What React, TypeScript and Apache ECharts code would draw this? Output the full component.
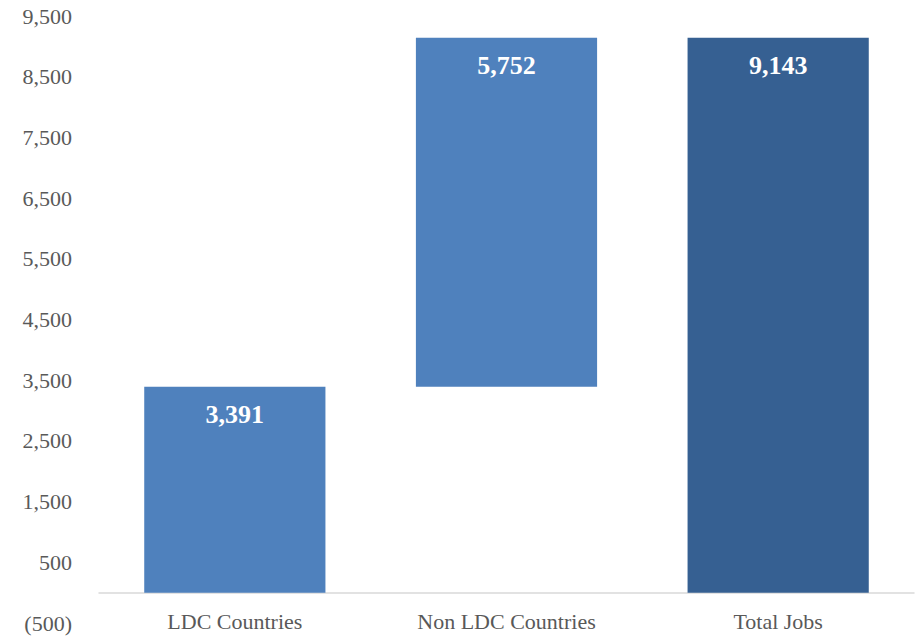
import React, { useEffect, useRef } from "react";
import * as echarts from "echarts";

const categories = ["LDC Countries", "Non LDC Countries", "Total Jobs"];
const baseValues = [0, 3391, 0];
const barValues = [3391, 5752, 9143];
const barColors = ["#4F81BD", "#4F81BD", "#366092"];
const yMin = -500;
const yMax = 9500;
const yInterval = 1000;

const fmt = (v: number) => {
  const s = Math.abs(v).toLocaleString("en-US");
  return v < 0 ? `(${s})` : s;
};

export default function App() {
  const ref = useRef<HTMLDivElement>(null);
  useEffect(() => {
    if (!ref.current) return;
    const chart = echarts.init(ref.current, null, { renderer: "svg" });
    chart.setOption({
      animation: false,
      backgroundColor: "#ffffff",
      textStyle: { fontFamily: "Liberation Serif" },
      grid: { left: 99, right: 2, top: 16, bottom: 16, containLabel: false, outerBoundsMode: "none" },
      xAxis: {
        type: "category",
        data: categories,
        axisLine: { onZero: true, lineStyle: { color: "#D9D9D9", width: 1.5 } },
        axisTick: { show: false },
        axisLabel: {
          color: "#595959",
          fontSize: 22,
          fontFamily: "Liberation Serif",
          margin: -13,
        },
      },
      yAxis: {
        type: "value",
        min: yMin,
        max: yMax,
        interval: yInterval,
        splitLine: { show: false },
        axisLine: { show: false },
        axisTick: { show: false },
        axisLabel: {
          color: "#595959",
          fontSize: 22,
          fontFamily: "Liberation Serif",
          margin: 27,
          formatter: (v: number) => fmt(v),
        },
      },
      series: [
        {
          type: "bar",
          stack: "w",
          data: baseValues,
          itemStyle: { color: "transparent" },
          barWidth: "66.7%",
          silent: true,
        },
        {
          type: "bar",
          stack: "w",
          barWidth: "66.7%",
          data: barValues.map((v, i) => ({ value: v, itemStyle: { color: barColors[i] } })),
          label: {
            show: true,
            position: "insideTop",
            distance: 15,
            color: "#ffffff",
            fontSize: 26,
            fontWeight: "bold",
            fontFamily: "Liberation Serif",
            formatter: (p: any) => fmt(p.value),
          },
        },
      ],
    });
    return () => chart.dispose();
  }, []);
  return (
    <div
      ref={ref}
      style={{ position: "fixed", left: 0, top: 0, width: 916, height: 639, background: "#fff" }}
    />
  );
}
